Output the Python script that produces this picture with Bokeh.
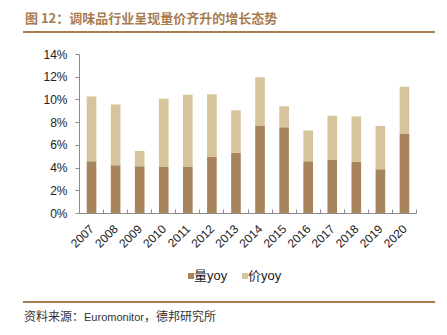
import math
from bokeh.plotting import figure
from bokeh.layouts import column
from bokeh.models import (ColumnDataSource, Range1d, FixedTicker, PrintfTickFormatter, Div)
from bokeh.embed import file_html
from bokeh.resources import INLINE

years = ["2007", "2008", "2009", "2010", "2011", "2012", "2013",
         "2014", "2015", "2016", "2017", "2018", "2019", "2020"]
vol_yoy = [4.6, 4.25, 4.15, 4.1, 4.1, 5.0, 5.35, 7.7, 7.6, 4.6, 4.7, 4.55, 3.9, 7.0]
price_yoy = [5.7, 5.35, 1.35, 6.0, 6.35, 5.5, 3.75, 4.3, 1.85, 2.7, 3.9, 4.0, 3.8, 4.15]
y_ticks = [0, 2, 4, 6, 8, 10, 12, 14]
series_names = ["量yoy", "价yoy"]
title_text = "图 12：调味品行业呈现量价齐升的增长态势"
source_parts = ["资料来源：", "Euromonitor", "，德邦研究所"]

DARK = "#A8845C"
LIGHT = "#D6C49C"
BROWN = "#A97C50"
AXIS = "#8C8C8C"
LATIN = "Liberation Sans, Noto Sans CJK SC"
W = 447

# ---- header: title and brown rule
head = Div(width=W, height=35, margin=0, text=(
    f'<div style="margin-left:23px;width:412px;height:33px;box-sizing:border-box;'
    f'border-bottom:2px solid {BROWN};padding:4px 0 0 2px;line-height:27px;'
    f'font-family:\'Noto Sans CJK SC\';font-weight:bold;font-size:13px;color:{BROWN};'
    f'white-space:nowrap;">{title_text}</div>'))

# ---- main chart
xs = list(range(1, len(years) + 1))
src = ColumnDataSource(dict(x=xs, vol=vol_yoy, price=price_yoy))

p = figure(width=W, height=225, output_backend="svg", toolbar_location=None,
           x_range=Range1d(0.5, len(years) + 0.5), y_range=Range1d(0, 14),
           min_border_left=79, min_border_right=31, min_border_top=19, min_border_bottom=47)
p.outline_line_color = None
p.xgrid.grid_line_color = None
p.ygrid.grid_line_color = None

r = p.vbar_stack(["vol", "price"], x="x", width=0.4, source=src,
                 color=[DARK, LIGHT], line_color=None)

p.xaxis.ticker = FixedTicker(ticks=xs, minor_ticks=[i + 0.5 for i in range(0, len(years) + 1)])
p.xaxis.major_label_overrides = {x: y for x, y in zip(xs, years)}
p.xaxis.major_label_orientation = math.pi / 4
p.xaxis.major_tick_in = 0
p.xaxis.major_tick_out = 0
p.xaxis.minor_tick_in = 4
p.xaxis.minor_tick_out = 0
p.xaxis.minor_tick_line_color = AXIS
p.xaxis.axis_line_color = AXIS
p.xaxis.major_label_text_font = LATIN
p.xaxis.major_label_text_font_size = "12px"
p.xaxis.major_label_text_color = "#222222"
p.xaxis.major_label_standoff = 13

p.yaxis.ticker = FixedTicker(ticks=y_ticks)
p.yaxis.formatter = PrintfTickFormatter(format="%d%%")
p.yaxis.minor_tick_line_color = None
p.yaxis.major_tick_in = 0
p.yaxis.major_tick_out = 4
p.yaxis.major_tick_line_color = AXIS
p.yaxis.axis_line_color = AXIS
p.yaxis.major_label_text_font = LATIN
p.yaxis.major_label_text_font_size = "12px"
p.yaxis.major_label_text_color = "#222222"
p.yaxis.major_label_standoff = 8

# ---- legend (HTML, under the chart)
items_html = ""
for (sq_left, tx_left), name, col in zip([(188, 194), (242, 248)], series_names, [DARK, LIGHT]):
    items_html += (
        f'<span style="position:absolute;left:{sq_left}px;top:13px;width:6px;height:6px;'
        f'background:{col};"></span>'
        f'<span style="position:absolute;left:{tx_left}px;top:7px;line-height:18px;'
        f'font-family:\'Liberation Sans\',\'Noto Sans CJK SC\';font-size:13px;color:#222222;'
        f'white-space:nowrap;">{name}</span>')
leg = Div(width=W, height=40, margin=0,
          text=f'<div style="position:relative;width:{W}px;height:40px;">{items_html}</div>')

# ---- footer: brown rule and source
cjk = "font-family:'Noto Sans CJK SC';font-size:12px;"
lat = "font-family:'Liberation Sans';font-size:11px;"
foot = Div(width=W, height=35, margin=0, text=(
    f'<div style="margin:1px 0 0 23px;width:412px;box-sizing:border-box;'
    f'border-top:2px solid {BROWN};padding-left:1px;line-height:25px;color:#333333;'
    f'white-space:nowrap;">'
    f'<span style="{cjk}">{source_parts[0]}</span>'
    f'<span style="{lat}">{source_parts[1]}</span>'
    f'<span style="{cjk}">{source_parts[2]}</span></div>'))

layout = column(head, p, leg, foot, spacing=0)
open("out.html", "w").write(file_html(layout, INLINE))
